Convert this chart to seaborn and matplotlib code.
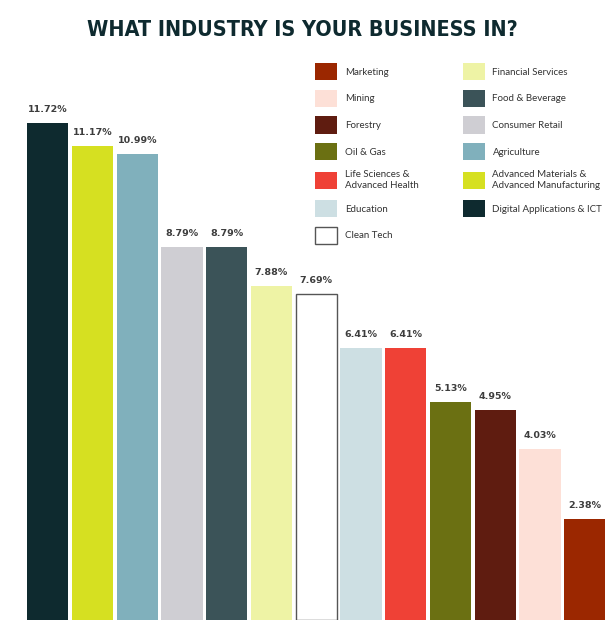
import matplotlib
matplotlib.use("Agg")
import matplotlib.pyplot as plt
import seaborn as sns
import pandas as pd

industries = [
    "Digital Applications & ICT",
    "Advanced Materials &\nAdvanced Manufacturing",
    "Agriculture",
    "Consumer Retail",
    "Food & Beverage",
    "Financial Services",
    "Clean Tech",
    "Education",
    "Life Sciences &\nAdvanced Health",
    "Oil & Gas",
    "Forestry",
    "Mining",
    "Marketing",
]
shares = [11.72, 11.17, 10.99, 8.79, 8.79, 7.88, 7.69, 6.41, 6.41, 5.13, 4.95, 4.03, 2.38]
colors = [
    "#0e2a2f", "#d6e021", "#80b0bc", "#cfced3", "#3b5358", "#eef3a5", "#ffffff",
    "#cddfe3", "#ef4136", "#6b7012", "#5f1c10", "#fde0d7", "#9b2700",
]

df = pd.DataFrame({"industry": industries, "share": shares})
palette = dict(zip(industries, colors))

sns.set_style("white")
plt.rcParams["font.family"] = ["DejaVu Sans"]

fig = plt.figure(figsize=(6.08, 6.20), dpi=100)
ax = fig.add_axes([0, 0, 1, 1])

sns.barplot(data=df, x="industry", y="share", hue="industry", order=industries,
            hue_order=industries, palette=palette, width=0.92, saturation=1,
            legend=False, ax=ax)

for name, container in zip(industries, ax.containers):
    for bar in container:
        if name == "Clean Tech":
            bar.set_edgecolor("#555555")
            bar.set_linewidth(1.0)
        else:
            bar.set_edgecolor("none")
    ax.bar_label(container, labels=[f"{v:.2f}%" for v in container.datavalues],
                 padding=6.5, fontsize=6.8, fontweight="bold", color="#3d3d3d")

ax.set_xlim(-1.066, 12.52)
ax.set_ylim(0, 14.61)
ax.set_axis_off()

# legend: reverse bar order, two columns
handles = [c.patches[0] for c in ax.containers][::-1]
labels = industries[::-1]
leg = ax.legend(handles, labels, ncol=2, loc="upper left",
                bbox_to_anchor=(315 / 608, 1 - 63 / 620),
                bbox_transform=fig.transFigure, frameon=False,
                prop={"family": "Lato", "size": 7.0}, labelcolor="#333333",
                handlelength=2.26, handleheight=2.35, handletextpad=0.8,
                labelspacing=0.97, columnspacing=4.55, borderpad=0, borderaxespad=0)
for t in leg.get_texts():
    t.set_linespacing(1.4)
for h in leg.legend_handles:
    if h.get_facecolor()[:3] == (1.0, 1.0, 1.0):
        h.set_edgecolor("#555555")
        h.set_linewidth(1.0)

fig.text(0.497, 1 - 30.5 / 620, "WHAT INDUSTRY IS YOUR BUSINESS IN?",
         ha="center", va="center", fontsize=15.5, fontweight="bold",
         family="DejaVu Sans", fontstretch="condensed", color="#0e2a2f")

fig.savefig("out.png", dpi=100)
